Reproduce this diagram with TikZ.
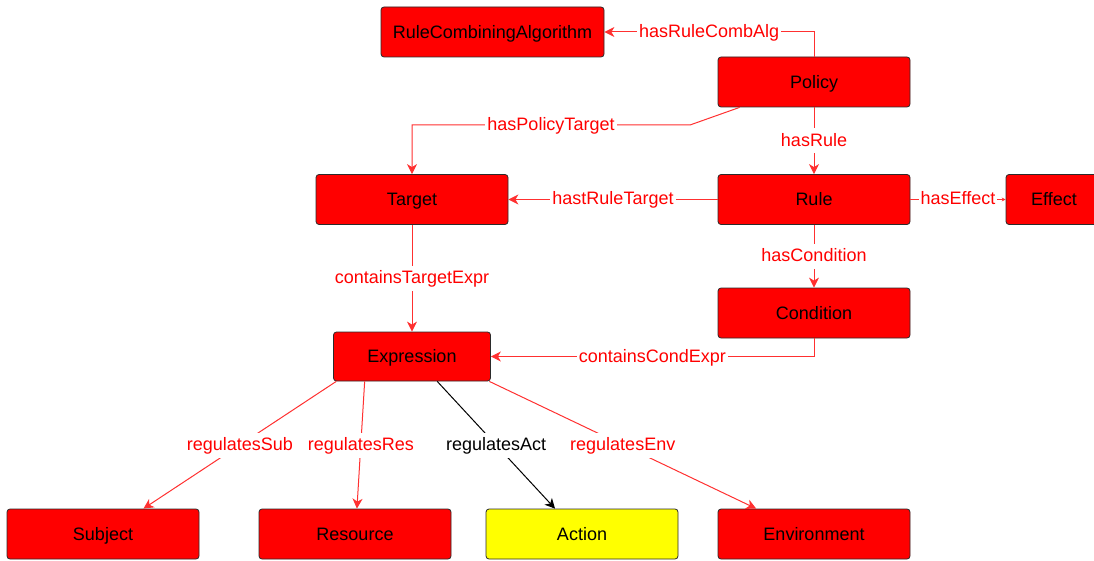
\documentclass[tikz,border=0pt]{standalone}
\usepackage{fontspec}
\setmainfont{Liberation Sans}
\usepackage{xcolor}
\definecolor{classred}{HTML}{FF0000}
\definecolor{classyellow}{HTML}{FFFF00}
\definecolor{proptext}{HTML}{FF0000}
\definecolor{propline}{HTML}{FF3030}
\definecolor{classborder}{HTML}{2B2B2B}
\usepackage{tikz}
\usetikzlibrary{positioning,arrows.meta,calc}

\begin{document}
\begin{tikzpicture}[x=1pt,y=-1pt,
    every node/.style={font=\fontsize{18}{20}\selectfont},
    klass/.style={draw=classborder, fill=classred, rounded corners=3pt,
                  line width=0.8pt, minimum width=192pt, minimum height=50pt,
                  text height=16.5pt, text depth=3.6pt, inner sep=2pt},
    klassact/.style={klass, fill=classyellow},
    lbl/.style={fill=white, text=proptext, inner xsep=2pt, inner ysep=3pt,
                text height=15pt, text depth=4pt},
    lblact/.style={lbl, text=black},
    rel/.style={draw=propline, line width=1pt,
                -{Stealth[length=10pt, width=10pt, inset=3pt]}},
    relsmall/.style={rel, -{Stealth[length=4pt, width=4pt]}},
    relact/.style={rel, draw=black}]
  \useasboundingbox (0,0) rectangle (1094,561);
  \node[klass, minimum width=223pt] (rca) at (492.5,32) {RuleCombiningAlgorithm};
  \node[klass] (policy) at (814,82) {Policy};
  \node[klass] (target) at (412,199.5) {Target};
  \node[klass] (rule) at (814,199.5) {Rule};
  \node[klass, minimum width=96pt] (effect) at (1054,199.5) {Effect};
  \node[klass] (condition) at (814,313) {Condition};
  \node[klass, minimum width=157pt, minimum height=49pt] (expr) at (412,356.5) {Expression};
  \node[klass] (subject) at (103,534) {Subject};
  \node[klass] (resource) at (355,534) {Resource};
  \node[klassact] (action) at (582,534) {Action};
  \node[klass] (env) at (814,534) {Environment};
  \coordinate (ptbend) at (690,125);
  \draw[rel] (policy.north) |- node[lbl, pos=0.75] {hasRuleCombAlg} (rca.east);
  \draw[rel] ($(policy.south west)+(22,0)$) -- (ptbend)
    -| node[lbl, pos=0.25] {hasPolicyTarget} (target.north);
  \draw[rel] (policy.south) -- node[lbl] {hasRule} (rule.north);
  \draw[rel] (rule.west) -- node[lbl] {hastRuleTarget} (target.east);
  \draw[relsmall] (rule.east) -- node[lbl] {hasEffect} (effect.west);
  \draw[rel] (rule.south) -- node[lbl] {hasCondition} (condition.north);
  \draw[rel] (target.south) -- node[lbl] {containsTargetExpr} (expr.north);
  \draw[rel] (condition.south) |- node[lbl, pos=0.75] {containsCondExpr} (expr.east);
  \draw[rel] ($(expr.south west)!0.02!(expr.south east)$) -- node[lbl] {regulatesSub}
    ($(subject.north west)!0.71!(subject.north east)$);
  \draw[rel] ($(expr.south west)!0.2!(expr.south east)$) -- node[lbl] {regulatesRes}
    ($(resource.north west)!0.51!(resource.north east)$);
  \draw[relact] ($(expr.south west)!0.66!(expr.south east)$) -- node[lblact] {regulatesAct}
    ($(action.north west)!0.36!(action.north east)$);
  \draw[rel] ($(expr.south west)!0.99!(expr.south east)$) -- node[lbl] {regulatesEnv}
    ($(env.north west)!0.2!(env.north east)$);
\end{tikzpicture}
\end{document}
